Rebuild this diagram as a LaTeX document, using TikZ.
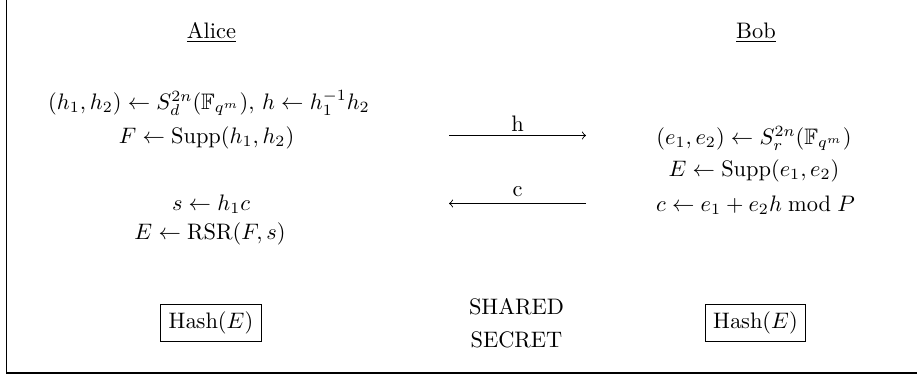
\documentclass[tikz,border=0pt]{standalone}
\usepackage{amsmath,amssymb}
\begin{document}
\begin{tikzpicture}[x=0.4464pt,y=-0.4464pt,
  txt/.style={anchor=base,inner sep=0pt},
  hashbox/.style={draw,line width=0.45pt,inner xsep=3.5pt,inner ysep=3.3pt},
  msg/.style={line width=0.4pt,-to}]
\useasboundingbox (0,0) rectangle (917,376);
\clip (0,0) rectangle (917,376);
% frame
\coordinate (ftop) at (6.5,-10);
\coordinate (fcorner) at (6.5,373);
\coordinate (fright) at (930,373);
\draw[line width=0.5pt] (ftop) -- (fcorner) -- (fright);
% headers
\node[txt] (alice) at (211.5,38) {\underline{Alice}};
\node[txt] (bob) at (756,38) {\underline{Bob}};
% Alice
\node[txt] (a1) at (209,109.6) {$(h_1,h_2)\leftarrow S_d^{2n}(\mathbb{F}_{q^m}),\, h\leftarrow h_1^{-1}h_2$};
\node[txt] (a2) at (206.5,143) {$F\leftarrow \mathrm{Supp}(h_1,h_2)$};
\node[txt] (a3) at (211,210.5) {$s\leftarrow h_1c$};
\node[txt] (a4) at (210,239.6) {$E\leftarrow \mathrm{RSR}(F,s)$};
% Bob
\node[txt] (b1) at (754,144.6) {$(e_1,e_2)\leftarrow S_r^{2n}(\mathbb{F}_{q^m})$};
\node[txt] (b2) at (754,176) {$E\leftarrow \mathrm{Supp}(e_1,e_2)$};
\node[txt] (b3) at (755.5,211.5) {$c\leftarrow e_1+e_2h \bmod P$};
% messages
\coordinate (hs) at (449,135.5);
\coordinate (he) at (586,135.5);
\coordinate (cs) at (586,203.5);
\coordinate (ce) at (449,203.5);
\draw[msg] (hs) -- (he);
\draw[msg] (cs) -- (ce);
\node[txt] (hl) at (517.5,131) {h};
\node[txt] (cl) at (517.5,196.5) {c};
% hashes
\node[hashbox] (ha) at (211,322.7) {$\mathrm{Hash}(E)$};
\node[hashbox] (hb) at (755.5,322.7) {$\mathrm{Hash}(E)$};
\node[txt] (sh1) at (516.5,314) {SHARED};
\node[txt] (sh2) at (516.5,347.5) {SECRET};
\end{tikzpicture}
\end{document}
